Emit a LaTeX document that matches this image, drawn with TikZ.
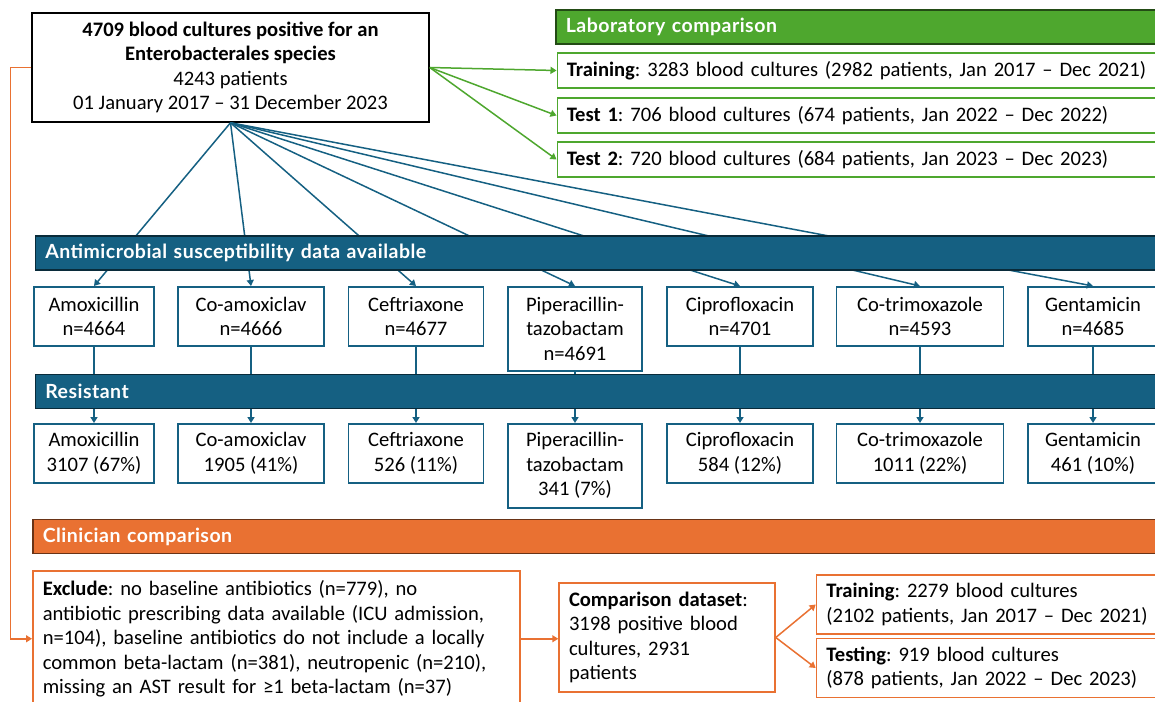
\documentclass[tikz,border=0pt]{standalone}
\usepackage{fontspec}
\setmainfont{Carlito}
\newfontfamily\barfont[LetterSpace=2.5]{Lato}
\usetikzlibrary{arrows.meta}
\definecolor{abblue}{HTML}{156082}
\definecolor{labgreen}{HTML}{4EA72E}
\definecolor{clinorange}{HTML}{E97132}
\frenchspacing
\tikzset{
  every node/.style={font=\fontsize{20.6}{24.5}\selectfont},
  tip/.style={-{Triangle[length=6pt,width=7pt]}},
  abbox/.style={draw=abblue, line width=1.5pt, fill=white, align=center,
    inner xsep=3pt, inner ysep=0pt, minimum height=59pt, anchor=north},
  labbox/.style={draw=labgreen, line width=1.5pt, fill=white, align=left,
    inner xsep=9.5pt, inner ysep=0pt, minimum height=35pt, anchor=west},
  clinbox/.style={draw=clinorange, line width=1.5pt, fill=white, align=left,
    inner xsep=10pt, inner ysep=0pt},
  headbar/.style={fill=#1, draw=#1!45!black, line width=1.5pt, text=white,
    font=\fontsize{19.5}{24.5}\selectfont\barfont\bfseries, align=left, text width=1120pt,
    inner xsep=10pt, minimum height=34pt, anchor=west},
  abline/.style={draw=abblue, line width=1.5pt, tip},
  labline/.style={draw=labgreen, line width=1.5pt, tip},
  clinline/.style={draw=clinorange, line width=1.5pt, tip},
}
\begin{document}
\begin{tikzpicture}[x=1pt,y=-1pt]
  \useasboundingbox (0,0) rectangle (1155,701);
  \clip (0,0) rectangle (1155,701);
  % source box
  \node[draw=black, line width=1.5pt, align=center, minimum width=397pt, minimum height=109pt]
    (top) at (230.5,67.5) {\textbf{4709 blood cultures positive for an}\\
      \textbf{Enterobacterales species}\\4243 patients\\01 January 2017 – 31 December 2023};
  % laboratory comparison
  \node[labbox, text width=589pt] (labtrain) at (556.5,70.5)
    {\textbf{Training}: 3283 blood cultures (2982 patients, Jan 2017 – Dec 2021)};
  \node[labbox, text width=589pt] (labtest1) at (556.5,115.5)
    {\textbf{Test 1}: 706 blood cultures (674 patients, Jan 2022 – Dec 2022)};
  \node[labbox, text width=589pt] (labtest2) at (556.5,159.5)
    {\textbf{Test 2}: 720 blood cultures (684 patients, Jan 2023 – Dec 2023)};
  % susceptibility data available
  \node[abbox, minimum width=120pt] (amox) at (94,286) {Amoxicillin\\n=4664};
  \node[abbox, minimum width=146pt] (coamox) at (251,286) {Co-amoxiclav\\n=4666};
  \node[abbox, minimum width=135pt] (ceft) at (416,286) {Ceftriaxone\\n=4677};
  \node[abbox, minimum width=134pt, minimum height=84pt] (pip) at (575,286) {Piperacillin-\\tazobactam\\n=4691};
  \node[abbox, minimum width=146pt] (cipro) at (740,286) {Ciprofloxacin\\n=4701};
  \node[abbox, minimum width=167pt] (cotrim) at (920,286) {Co-trimoxazole\\n=4593};
  \node[abbox, minimum width=130pt] (gent) at (1093,286) {Gentamicin\\n=4685};
  % resistant
  \node[abbox, minimum width=120pt] (amoxr) at (94,423) {Amoxicillin\\3107 (67\%)};
  \node[abbox, minimum width=146pt] (coamoxr) at (251,423) {Co-amoxiclav\\1905 (41\%)};
  \node[abbox, minimum width=135pt] (ceftr) at (416,423) {Ceftriaxone\\526 (11\%)};
  \node[abbox, minimum width=134pt, minimum height=84pt] (pipr) at (575,423) {Piperacillin-\\tazobactam\\341 (7\%)};
  \node[abbox, minimum width=146pt] (cipror) at (740,423) {Ciprofloxacin\\584 (12\%)};
  \node[abbox, minimum width=167pt] (cotrimr) at (920,423) {Co-trimoxazole\\1011 (22\%)};
  \node[abbox, minimum width=130pt] (gentr) at (1093,423) {Gentamicin\\461 (10\%)};
  % clinician comparison
  \node[clinbox, text width=467pt, minimum height=136pt, anchor=north west] (excl) at (32,570)
    {\textbf{Exclude}: no baseline antibiotics (n=779), no\\
     antibiotic prescribing data available (ICU admission,\\
     n=104), baseline antibiotics do not include a locally\\
     common beta-lactam (n=381), neutropenic (n=210),\\
     missing an AST result for ≥1 beta-lactam (n=37)};
  \node[clinbox, text width=196pt, minimum height=109pt] (comp) at (667,637.5)
    {\textbf{Comparison dataset}:\\3198 positive blood\\cultures, 2931\\patients};
  \node[clinbox, text width=329pt, minimum height=59pt, anchor=west] (clintrain) at (815.7,604.5)
    {\textbf{Training}: 2279 blood cultures\\(2102 patients, Jan 2017 – Dec 2021)};
  \node[clinbox, text width=329pt, minimum height=59pt, anchor=west] (clintest) at (815.7,668)
    {\textbf{Testing}: 919 blood cultures\\(878 patients, Jan 2022 – Dec 2023)};
  % connectors
  \draw[labline] (top.east) -- (labtrain.west);
  \draw[labline] (top.east) -- (labtest1.west);
  \draw[labline] (top.east) -- (labtest2.west);
  \draw[abline] (top.south) -- (amox.north);
  \draw[abline] (top.south) -- (coamox.north);
  \draw[abline] (top.south) -- (ceft.north);
  \draw[abline] (top.south) -- (pip.north);
  \draw[abline] (top.south) -- (cipro.north);
  \draw[abline] (top.south) -- (cotrim.north);
  \draw[abline] (top.south) -- (gent.north);
  \draw[abline] (amox.south) -- (amoxr.north);
  \draw[abline] (coamox.south) -- (coamoxr.north);
  \draw[abline] (ceft.south) -- (ceftr.north);
  \draw[abline] (pip.south) -- (pipr.north);
  \draw[abline] (cipro.south) -- (cipror.north);
  \draw[abline] (cotrim.south) -- (cotrimr.north);
  \draw[abline] (gent.south) -- (gentr.north);
  \draw[clinline] (top.west) -- ++(-21,0) |- (excl.west);
  \draw[clinline] (excl.east) -- (excl.east -| comp.west);
  \draw[clinline] (comp.east) -- (clintrain.west);
  \draw[clinline] (comp.east) -- (clintest.west);
  % section bars
  \node[headbar=labgreen] (labbar) at (555,27) {Laboratory comparison};
  \node[headbar=abblue] (astbar) at (34.5,253) {Antimicrobial susceptibility data available};
  \node[headbar=abblue] (resbar) at (34.5,391.5) {Resistant};
  \node[headbar=clinorange] (clinbar) at (32,536.5) {Clinician comparison};
\end{tikzpicture}
\end{document}
